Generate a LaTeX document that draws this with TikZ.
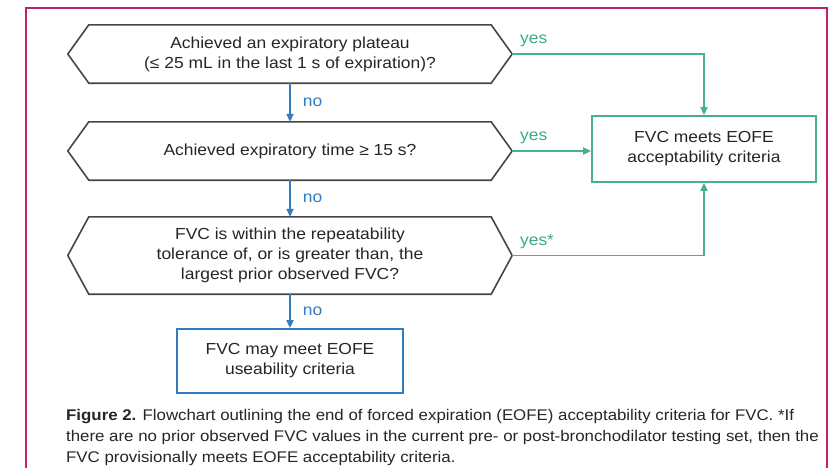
\documentclass[tikz,border=0pt]{standalone}
\usepackage{fontspec}
\setmainfont{Liberation Sans}[FakeStretch=1.09]
\usetikzlibrary{arrows.meta,calc}
\definecolor{framec}{RGB}{192,32,108}
\definecolor{greenc}{RGB}{72,176,140}
\definecolor{greent}{RGB}{60,170,140}
\definecolor{bluec}{RGB}{52,124,194}
\definecolor{hexc}{RGB}{70,70,70}
\definecolor{textc}{RGB}{38,38,38}
\begin{document}
\begin{tikzpicture}[x=1pt,y=-1pt,
  mainfont/.style={font=\fontsize{16}{20}\selectfont},
  hextext/.style={mainfont, minimum width=402pt, inner sep=0pt, align=center, text=textc},
  hexline/.style={draw=hexc, line width=1.6pt, line join=miter},
  gbox/.style={mainfont, draw=greenc, line width=1.8pt, minimum width=224pt, minimum height=66pt, inner sep=0pt, align=center, text=textc},
  bbox/.style={mainfont, draw=bluec, line width=1.8pt, minimum width=226pt, minimum height=64pt, inner sep=0pt, align=center, text=textc},
  gline/.style={draw=greenc, line width=1.8pt},
  garrow/.style={gline, -{Triangle[length=8pt,width=7pt]}},
  barrow/.style={draw=bluec, line width=1.8pt, -{Triangle[length=8pt,width=7pt]}},
  nolbl/.style={mainfont, anchor=west, xshift=12pt, text=bluec, inner sep=0pt},
  yeslbl/.style={mainfont, anchor=south west, pos=0, xshift=7pt, yshift=6pt, text=greent, inner sep=0pt},
  captext/.style={font=\fontsize{15.45}{20.8}\selectfont, text=textc, align=left, inner sep=0pt, anchor=north west}
]
\useasboundingbox (0,0) rectangle (831,467);
\clip (0,0) rectangle (831,467);
\fill[white] (0,0) rectangle (831,467);
\draw[framec, line width=2pt] (26,8) rectangle (827,490);

% decision nodes
\node[hextext, minimum height=58pt] (h1) at (290,54) {Achieved an expiratory plateau\\(≤ 25 mL in the last 1 s of expiration)?};
\node[hextext, minimum height=58pt] (h2) at (290,151) {Achieved expiratory time ≥ 15 s?};
\node[hextext, minimum height=77pt] (h3) at (290,255.5) {FVC is within the repeatability\\tolerance of, or is greater than, the\\largest prior observed FVC?};

\foreach \h in {h1,h2,h3}{
  \coordinate (\h r) at ([xshift=21pt]\h.east);
  \coordinate (\h l) at ([xshift=-21pt]\h.west);
  \draw[hexline] (\h.north west) -- (\h.north east) -- (\h r) -- (\h.south east) -- (\h.south west) -- (\h l) -- cycle;
}

% outcome boxes
\node[gbox] (g) at (704,149) {FVC meets EOFE\\acceptability criteria};
\node[bbox] (b) at (290,361) {FVC may meet EOFE\\useability criteria};

% "no" connectors
\draw[barrow] (h1.south) -- node[nolbl] {no} (h2.north);
\draw[barrow] (h2.south) -- node[nolbl] {no} (h3.north);
\draw[barrow] (h3.south) -- node[nolbl] {no} (b.north);

% "yes" connectors
\draw[garrow] (h1r) -- node[yeslbl] {yes} (h1r -| g.north) -- (g.north);
\draw[garrow] (h2r) -- node[yeslbl] {yes} (h2r -| g.west);
\draw[garrow] (h3r) -- node[yeslbl] {yes*} (h3r -| g.south) -- (g.south);

% caption
\node[captext] (cap) at (66,409.3) {\textbf{Figure 2.} Flowchart outlining the end of forced expiration (EOFE) acceptability criteria for FVC. *If\\there are no prior observed FVC values in the current pre- or post-bronchodilator testing set, then the\\FVC provisionally meets EOFE acceptability criteria.};
\end{tikzpicture}
\end{document}
